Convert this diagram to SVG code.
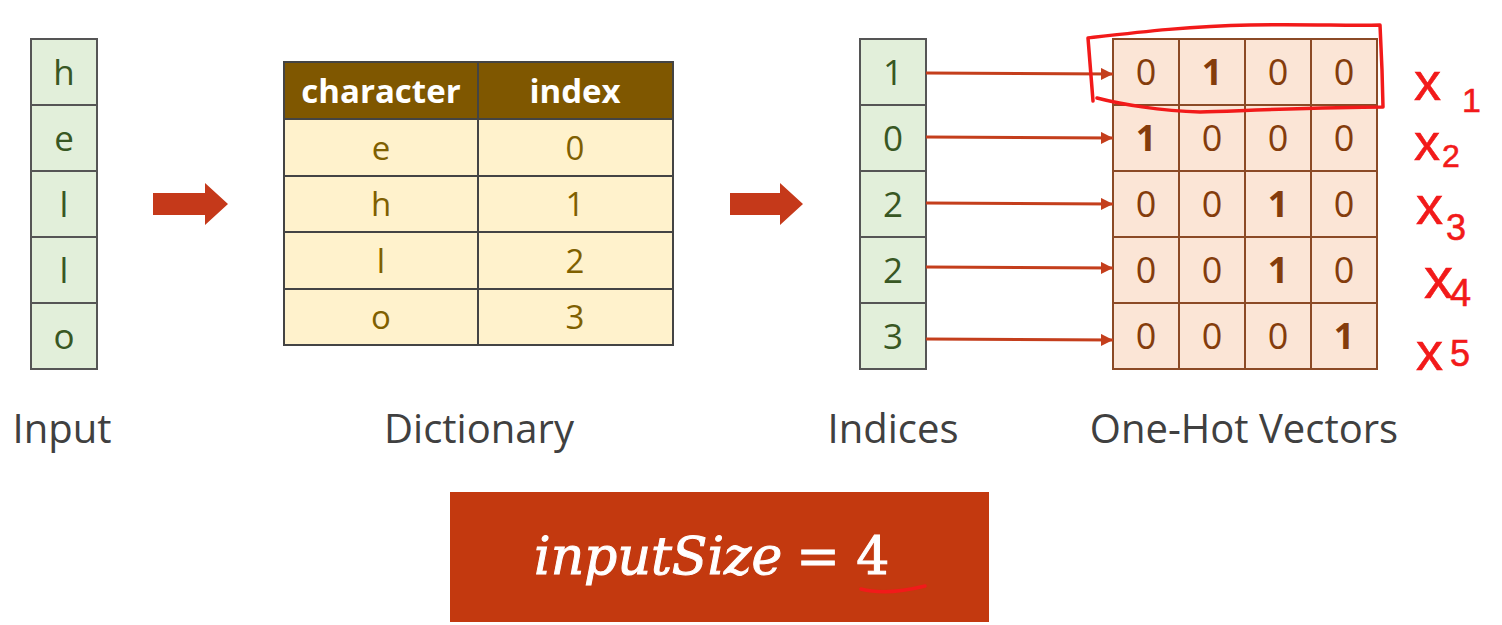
<svg xmlns="http://www.w3.org/2000/svg" width="1502" height="625" viewBox="0 0 1502 625">
<defs>
<style>
.t{font-family:"Open Sans","Noto Sans",sans-serif;text-anchor:middle}
.in{fill:#e2efda;stroke:#555;stroke-width:2}
.inT{fill:#385723;font-size:35px}
.hd{fill:#7f5700;stroke:#444;stroke-width:2}
.bd{fill:#fff2cc;stroke:#444;stroke-width:2}
.hdT{fill:#fff;font-size:33px;font-weight:bold}
.bdT{fill:#7f6000;font-size:33px}
.oh{fill:#fbe5d6;stroke:#8b4a26;stroke-width:2}
.ohT{fill:#843c0c;font-size:36px}
.b{font-weight:bold}
.lbl{fill:#404040;font-size:40px}
.con{stroke:#c43e1c;stroke-width:3;fill:none}
.hw{fill:none;stroke:#f21a1a;stroke-width:3.5;stroke-linecap:round;stroke-linejoin:round}
.hwT{fill:#f21a1a;font-family:"Liberation Sans",sans-serif}
</style>
<marker id="ah" viewBox="0 0 10 10" refX="10" refY="5" markerWidth="4" markerHeight="4" orient="auto" markerUnits="strokeWidth">
<path d="M0,0 L10,5 L0,10 z" fill="#c43e1c"/>
</marker>
</defs>
<rect width="1502" height="625" fill="#fff"/>

<g id="input">
<rect class="in" x="31" y="39" width="66" height="66"/>
<rect class="in" x="31" y="105" width="66" height="66"/>
<rect class="in" x="31" y="171" width="66" height="66"/>
<rect class="in" x="31" y="237" width="66" height="66"/>
<rect class="in" x="31" y="303" width="66" height="66"/>
<text class="t inT" x="64" y="85">h</text>
<text class="t inT" x="64" y="151">e</text>
<text class="t inT" x="64" y="217">l</text>
<text class="t inT" x="64" y="283">l</text>
<text class="t inT" x="64" y="349">o</text>
<text class="t lbl" x="62" y="443">Input</text>
</g>

<g id="arrow1">
<path d="M153,193 L205,193 L205,183 L228,204 L205,225 L205,215 L153,215 z" fill="#c5391a"/>
</g>

<g id="dictionary">
<rect class="hd" x="284" y="62" width="194" height="57"/>
<rect class="hd" x="478" y="62" width="195" height="57"/>
<rect class="bd" x="284" y="119" width="194" height="57"/>
<rect class="bd" x="478" y="119" width="195" height="57"/>
<rect class="bd" x="284" y="176" width="194" height="56"/>
<rect class="bd" x="478" y="176" width="195" height="56"/>
<rect class="bd" x="284" y="232" width="194" height="57"/>
<rect class="bd" x="478" y="232" width="195" height="57"/>
<rect class="bd" x="284" y="289" width="194" height="56"/>
<rect class="bd" x="478" y="289" width="195" height="56"/>
<text class="t hdT" x="381" y="103">character</text>
<text class="t hdT" x="575" y="103">index</text>
<text class="t bdT" x="381" y="160">e</text>
<text class="t bdT" x="575" y="160">0</text>
<text class="t bdT" x="381" y="216">h</text>
<text class="t bdT" x="575" y="216">1</text>
<text class="t bdT" x="381" y="273">l</text>
<text class="t bdT" x="575" y="273">2</text>
<text class="t bdT" x="381" y="329">o</text>
<text class="t bdT" x="575" y="329">3</text>
<text class="t lbl" x="479" y="443">Dictionary</text>
</g>

<g id="arrow2">
<path d="M730,193 L780,193 L780,183 L803,204 L780,225 L780,215 L730,215 z" fill="#c5391a"/>
</g>

<g id="indices">
<rect class="in" x="860" y="39" width="66" height="66"/>
<rect class="in" x="860" y="105" width="66" height="66"/>
<rect class="in" x="860" y="171" width="66" height="66"/>
<rect class="in" x="860" y="237" width="66" height="66"/>
<rect class="in" x="860" y="303" width="66" height="66"/>
<text class="t inT" x="893" y="85">1</text>
<text class="t inT" x="893" y="151">0</text>
<text class="t inT" x="893" y="217">2</text>
<text class="t inT" x="893" y="283">2</text>
<text class="t inT" x="893" y="349">3</text>
<text class="t lbl" x="893" y="443">Indices</text>
</g>

<g id="onehot">
<g>
<rect class="oh" x="1113" y="39" width="66" height="66"/><rect class="oh" x="1179" y="39" width="66" height="66"/><rect class="oh" x="1245" y="39" width="66" height="66"/><rect class="oh" x="1311" y="39" width="66" height="66"/>
<rect class="oh" x="1113" y="105" width="66" height="66"/><rect class="oh" x="1179" y="105" width="66" height="66"/><rect class="oh" x="1245" y="105" width="66" height="66"/><rect class="oh" x="1311" y="105" width="66" height="66"/>
<rect class="oh" x="1113" y="171" width="66" height="66"/><rect class="oh" x="1179" y="171" width="66" height="66"/><rect class="oh" x="1245" y="171" width="66" height="66"/><rect class="oh" x="1311" y="171" width="66" height="66"/>
<rect class="oh" x="1113" y="237" width="66" height="66"/><rect class="oh" x="1179" y="237" width="66" height="66"/><rect class="oh" x="1245" y="237" width="66" height="66"/><rect class="oh" x="1311" y="237" width="66" height="66"/>
<rect class="oh" x="1113" y="303" width="66" height="66"/><rect class="oh" x="1179" y="303" width="66" height="66"/><rect class="oh" x="1245" y="303" width="66" height="66"/><rect class="oh" x="1311" y="303" width="66" height="66"/>
</g>
<text class="t ohT" x="1146" y="85">0</text><text class="t ohT b" x="1212" y="85">1</text><text class="t ohT" x="1278" y="85">0</text><text class="t ohT" x="1344" y="85">0</text>
<text class="t ohT b" x="1146" y="151">1</text><text class="t ohT" x="1212" y="151">0</text><text class="t ohT" x="1278" y="151">0</text><text class="t ohT" x="1344" y="151">0</text>
<text class="t ohT" x="1146" y="217">0</text><text class="t ohT" x="1212" y="217">0</text><text class="t ohT b" x="1278" y="217">1</text><text class="t ohT" x="1344" y="217">0</text>
<text class="t ohT" x="1146" y="283">0</text><text class="t ohT" x="1212" y="283">0</text><text class="t ohT b" x="1278" y="283">1</text><text class="t ohT" x="1344" y="283">0</text>
<text class="t ohT" x="1146" y="349">0</text><text class="t ohT" x="1212" y="349">0</text><text class="t ohT" x="1278" y="349">0</text><text class="t ohT b" x="1344" y="349">1</text>
<text class="t lbl" x="1244" y="443">One-Hot Vectors</text>
</g>

<g id="connectors">
<line class="con" x1="926" y1="73" x2="1113" y2="74" marker-end="url(#ah)"/>
<line class="con" x1="926" y1="137" x2="1113" y2="138" marker-end="url(#ah)"/>
<line class="con" x1="926" y1="203" x2="1113" y2="204" marker-end="url(#ah)"/>
<line class="con" x1="926" y1="267" x2="1113" y2="268" marker-end="url(#ah)"/>
<line class="con" x1="926" y1="339" x2="1113" y2="340" marker-end="url(#ah)"/>
</g>

<g id="annotations">
<path class="hw" d="M1093,101 L1088,38 C1140,32 1190,26 1250,25 C1310,24 1350,26 1380,25 L1382,70 L1383,107 C1330,107 1260,110 1200,112 C1160,111 1120,104 1097,98"/>
<g class="hwT" stroke="#f21a1a" stroke-width="0.6">
<text x="1414" y="100" font-size="54">x</text><text x="1462" y="112" font-size="34">1</text>
<text x="1414" y="160" font-size="52">x</text><text x="1442" y="167" font-size="32">2</text>
<text x="1416" y="224" font-size="54">x</text><text x="1446" y="240" font-size="36">3</text>
<text x="1424" y="298" font-size="58">x</text><text x="1450" y="306" font-size="38">4</text>
<text x="1416" y="370" font-size="54">x</text><text x="1450" y="366" font-size="36">5</text>
</g>
</g>

<g id="formula">
<rect x="450" y="492" width="539" height="130" fill="#c3390f"/>
<text x="534" y="574" font-family="DejaVu Serif,serif" font-size="52" fill="#fff" stroke="#fff" stroke-width="1"><tspan font-style="italic">inputSize</tspan><tspan dx="14">= 4</tspan></text>
<path class="hw" d="M861,589 C880,594 905,591 925,586"/>
</g>
</svg>
